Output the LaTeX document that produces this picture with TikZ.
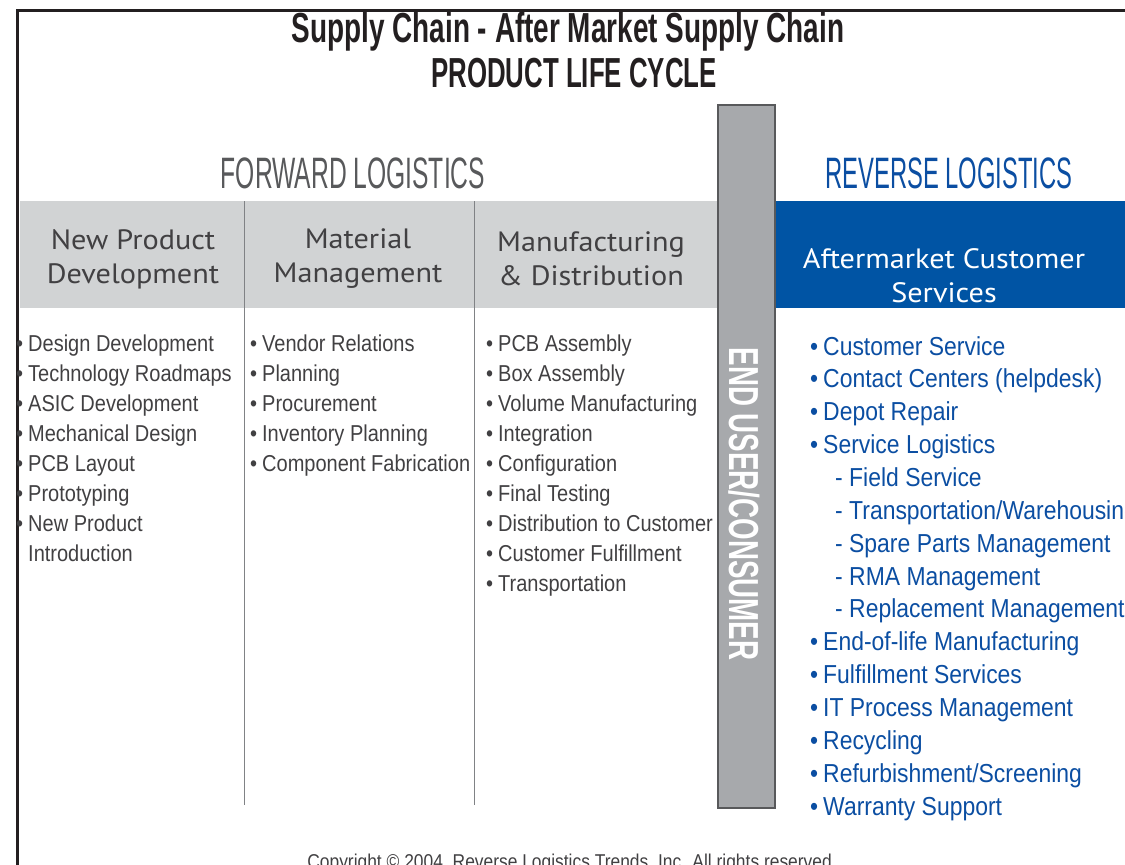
\documentclass[tikz,border=0pt]{standalone}
\usepackage{fontspec}
\setmainfont{Liberation Sans}
\newfontfamily\bodyfont[FakeStretch=0.87]{Liberation Sans}
\newfontfamily\rbodyfont[FakeStretch=0.882]{Liberation Sans}
\newfontfamily\titlefont[FakeStretch=0.665]{Liberation Sans}
\newfontfamily\subtitlefont[FakeStretch=0.615]{Liberation Sans}
\newfontfamily\sidefont[FakeStretch=0.56]{Liberation Sans}
\newfontfamily\rsidefont[FakeStretch=0.54]{Liberation Sans}
\newfontfamily\barfont[FakeStretch=0.66]{Liberation Sans}
\newfontfamily\headfont[FakeStretch=1.08]{PT Sans}

\definecolor{bandgray}{HTML}{D1D3D4}
\definecolor{bargray}{HTML}{A7A9AC}
\definecolor{barline}{HTML}{58595B}
\definecolor{rlblue}{HTML}{0054A4}
\definecolor{txtblue}{HTML}{0B4EA2}
\definecolor{txtgray}{HTML}{414042}
\definecolor{fwgray}{HTML}{58595B}
\definecolor{framec}{HTML}{231F20}
\definecolor{sepgray}{HTML}{808285}

\newcommand\bul{\makebox[0pt][r]{\textbullet\hspace{5pt}}}

\tikzset{
  celltext/.style={inner sep=0pt, align=center,
    font=\headfont\fontsize{28}{34}\selectfont},
  fwitem/.style={anchor=base west, inner sep=0pt, text=txtgray,
    font=\bodyfont\fontsize{23}{28}\selectfont},
  rvitem/.style={anchor=base west, inner sep=0pt, text=txtblue,
    font=\rbodyfont\fontsize{26}{30}\selectfont},
  sep/.style={draw=sepgray, line width=1pt},
}

\begin{document}
\begin{tikzpicture}[x=1pt,y=-1pt]
\useasboundingbox (0,0) rectangle (1125,865);

% outer frame (top and left edges)
\draw[framec, line width=3pt] (17.5,865) -- (17.5,10.5) -- (1125,10.5);

% title
\node[inner sep=0pt, anchor=base, font=\titlefont\bfseries\fontsize{42}{42}\selectfont, text=framec]
  (title1) at (568,42) {Supply Chain - After Market Supply Chain};
\node[inner sep=0pt, anchor=base, font=\subtitlefont\bfseries\fontsize{42}{42}\selectfont, text=framec]
  (title2) at (574,87) {PRODUCT LIFE CYCLE};

% section headings
\node[inner sep=0pt, anchor=base, font=\sidefont\fontsize{44}{44}\selectfont, text=fwgray]
  (fwd) at (353,188) {FORWARD LOGISTICS};
\node[inner sep=0pt, anchor=base, font=\rsidefont\fontsize{44}{44}\selectfont, text=txtblue]
  (rev) at (949,188) {REVERSE LOGISTICS};

% header bands
\fill[bandgray] (20,201) rectangle (718,308);
\fill[rlblue] (775,201) rectangle (1125,308);

% header texts
\node[celltext, text=txtgray] (npd) at (133,259) {New Product\\Development};
\node[celltext, text=txtgray] (mm) at (358,259) {Material\\Management};
\node[celltext, text=txtgray] (md) at (591,259) {Manufacturing\\\& Distribution};
\node[celltext, text=white] (acs) at (944,276) {Aftermarket Customer\\Services};

% column separators
\draw[sep] (244,201) -- (244,805);
\draw[sep] (474,201) -- (474,805);

% end user bar
\node[draw=barline, line width=1.5pt, fill=bargray, minimum width=57pt, minimum height=703pt, inner sep=0pt]
  (bar) at (746.5,456.5) {};
\node[rotate=-90, inner sep=0pt, text=white, font=\barfont\bfseries\fontsize{42}{42}\selectfont]
  (enduser) at (744,504) {END USER/CONSUMER};

% forward logistics lists
\foreach \t [count=\i] in {{\bul Design Development},{\bul Technology Roadmaps},{\bul ASIC Development},
  {\bul Mechanical Design},{\bul PCB Layout},{\bul Prototyping},{\bul New Product},{Introduction}}
  \node[fwitem] (a\i) at (28,351+30*\i-30) {\t};

\foreach \t [count=\i] in {{Vendor Relations},{Planning},{Procurement},{Inventory Planning},{Component Fabrication}}
  \node[fwitem] (b\i) at (262,351+30*\i-30) {\bul\t};

\foreach \t [count=\i] in {{PCB Assembly},{Box Assembly},{Volume Manufacturing},{Integration},{Configuration},
  {Final Testing},{Distribution to Customer},{Customer Fulfillment},{Transportation}}
  \node[fwitem] (c\i) at (498,351+30*\i-30) {\bul\t};

% reverse logistics list
\foreach \t [count=\i] in {{\bul Customer Service},{\bul Contact Centers (helpdesk)},{\bul Depot Repair},
  {\bul Service Logistics},{\hspace{12pt}- Field Service},{\hspace{12pt}- Transportation/Warehousing},
  {\hspace{12pt}- Spare Parts Management},{\hspace{12pt}- RMA Management},{\hspace{12pt}- Replacement Management},
  {\bul End-of-life Manufacturing},{\bul Fulfillment Services},{\bul IT Process Management},
  {\bul Recycling},{\bul Refurbishment/Screening},{\bul Warranty Support}}
  \node[rvitem] (r\i) at (823,355+32.86*\i-32.86) {\t};

% copyright line
\node[inner sep=0pt, anchor=base, text=txtgray, font=\bodyfont\fontsize{20}{20}\selectfont]
  (copy) at (572,868) {Copyright \textcopyright{} 2004, Reverse Logistics Trends, Inc. All rights reserved.};
\end{tikzpicture}
\end{document}
